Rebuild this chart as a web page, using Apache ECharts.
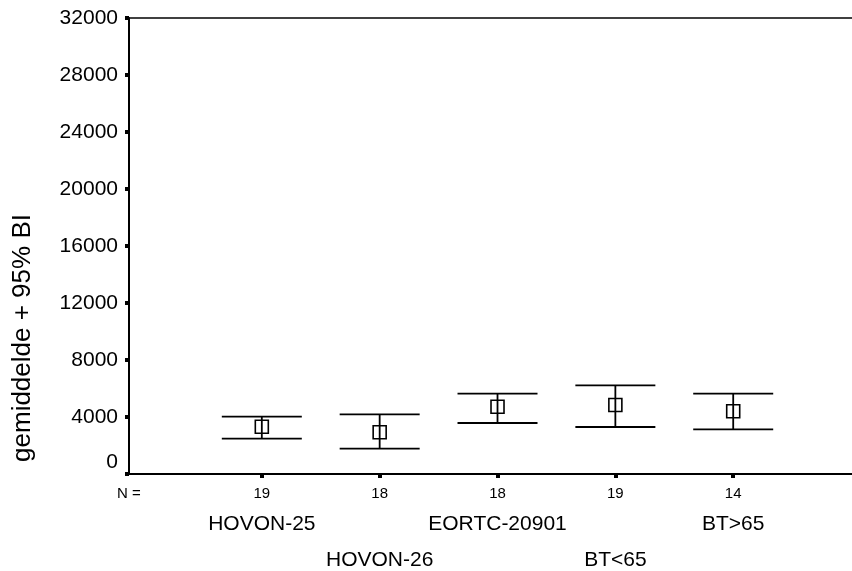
<!DOCTYPE html>
<html>
<head>
<meta charset="utf-8">
<script src="https://cdn.jsdelivr.net/npm/echarts@6/dist/echarts.min.js"></script>
<style>
  html, body { margin: 0; padding: 0; background: #fff; }
  #chart { width: 852px; height: 571px; }
</style>
</head>
<body>
<div id="chart"></div>
<script>
// group names, N per group, mean and 95% CI
const groups = ['HOVON-25', 'HOVON-26', 'EORTC-20901', 'BT<65', 'BT>65'];
const counts = [19, 18, 18, 19, 14];
const means = [3320, 2930, 4720, 4840, 4400];
const lower = [2480, 1780, 3580, 3300, 3130];
const upper = [4020, 4190, 5640, 6220, 5640];
const yTicks = [0, 4000, 8000, 12000, 16000, 20000, 24000, 28000, 32000];
const yTitle = 'gemiddelde + 95% BI';

const FONT = '"Liberation Sans", Arial, sans-serif';
const positions = groups.map((g, i) => i + 1);
const X_MIN = -0.127, X_MAX = 6.008;

const barData = groups.map((g, i) => [i + 1, means[i], lower[i], upper[i]]);

function renderBar(params, api) {
  const x = api.value(0);
  const mid = api.coord([x, api.value(1)]);
  const lo = api.coord([x, api.value(2)]);
  const hi = api.coord([x, api.value(3)]);
  const half = 40, s = 6.5;
  const st = { stroke: '#000', lineWidth: 1.8, fill: null };
  return {
    type: 'group',
    children: [
      { type: 'line', shape: { x1: mid[0] - half, y1: hi[1], x2: mid[0] + half, y2: hi[1] }, style: st },
      { type: 'line', shape: { x1: mid[0] - half, y1: lo[1], x2: mid[0] + half, y2: lo[1] }, style: st },
      { type: 'line', shape: { x1: mid[0], y1: hi[1], x2: mid[0], y2: lo[1] }, style: st },
      { type: 'rect', shape: { x: mid[0] - s, y: mid[1] - s, width: 2 * s, height: 2 * s }, style: { stroke: '#000', lineWidth: 1.6, fill: 'none' } }
    ]
  };
}

// extra label-only axes for the two staggered rows of group names
const nameAxis = (margin, idxs) => ({
  type: 'value', min: X_MIN, max: X_MAX, position: 'bottom',
  axisLine: { show: false }, axisTick: { show: false }, splitLine: { show: false },
  axisLabel: {
    customValues: idxs.map(i => i + 1),
    margin: margin,
    color: '#000', fontFamily: FONT, fontSize: 21,
    formatter: v => groups[Math.round(v) - 1]
  }
});

const chart = echarts.init(document.getElementById('chart'), null, { renderer: 'canvas' });
chart.setOption({
  animation: false,
  backgroundColor: '#fff',
  grid: { left: 129, right: 0, top: 18, bottom: 97, show: false },
  xAxis: [
    {
      type: 'value', min: X_MIN, max: X_MAX, position: 'bottom',
      axisLine: { show: true, onZero: false, lineStyle: { color: '#000', width: 2 } },
      axisTick: { show: true, customValues: positions, length: 4, inside: false, lineStyle: { color: '#000', width: 4 } },
      splitLine: { show: false },
      axisLabel: {
        customValues: [X_MIN].concat(positions),
        margin: 12,
        color: '#000', fontFamily: FONT, fontSize: 15,
        formatter: v => v < 0.5 ? 'N =' : String(counts[Math.round(v) - 1])
      }
    },
    nameAxis(40, [0, 2, 4]),
    nameAxis(76, [1, 3])
  ],
  yAxis: {
    type: 'value', min: 0, max: 32000, interval: 4000,
    axisLine: { show: true, onZero: false, lineStyle: { color: '#000', width: 2 } },
    axisTick: { show: true, length: 4, lineStyle: { color: '#000', width: 4 } },
    splitLine: { show: false },
    axisLabel: {
      margin: 11, color: '#000', fontFamily: FONT, fontSize: 21,
      customValues: yTicks,
      formatter: v => v === 0 ? '{z|0}' : String(v),
      rich: { z: { fontFamily: FONT, fontSize: 21, color: '#000', padding: [0, 0, 23, 0] } }
    }
  },
  graphic: [
    // top frame line
    { type: 'line', shape: { x1: 129, y1: 18, x2: 852, y2: 18 }, style: { stroke: '#000', lineWidth: 1.5 } },
    {
      type: 'text', x: 23, y: 338, rotation: Math.PI / 2,
      style: { text: yTitle, fill: '#000', font: '26px ' + FONT, textAlign: 'center', textVerticalAlign: 'middle' }
    }
  ],
  series: [
    {
      type: 'custom',
      renderItem: renderBar,
      data: barData,
      encode: { x: 0, y: [1, 2, 3] }
    }
  ]
});
</script>
</body>
</html>
